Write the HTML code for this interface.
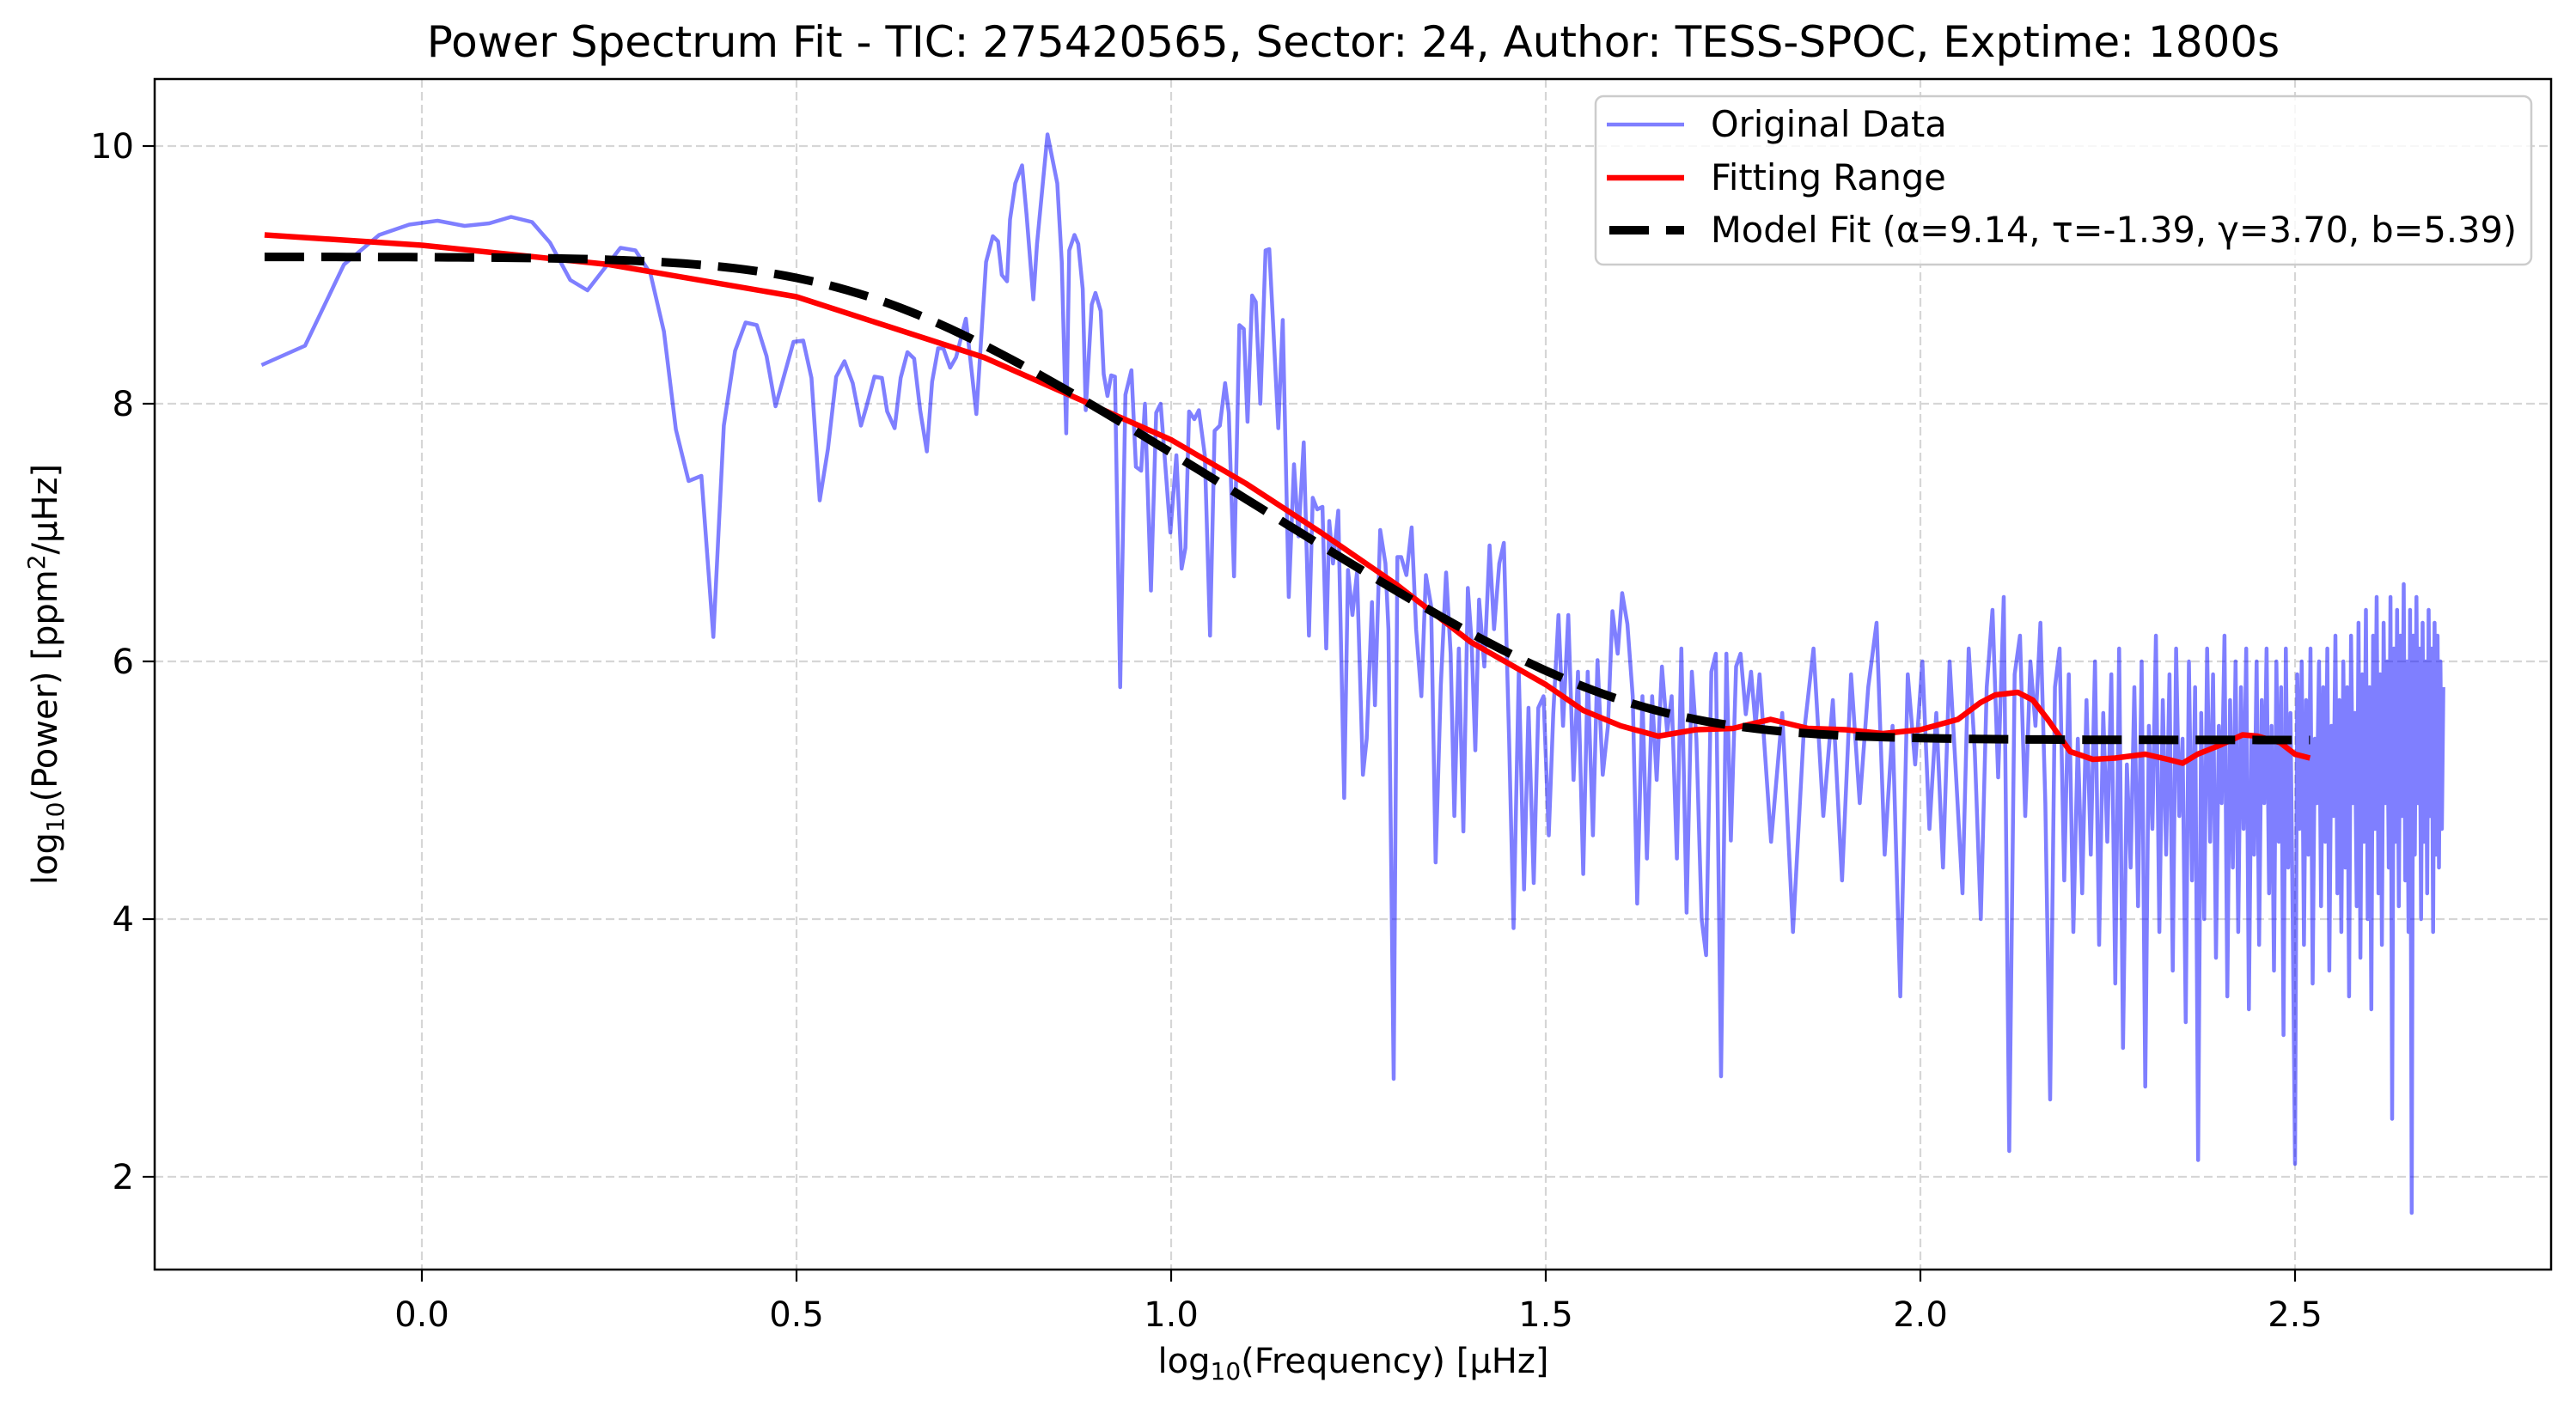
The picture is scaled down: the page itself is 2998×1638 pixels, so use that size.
<!DOCTYPE html>
<html><head><meta charset="utf-8"><style>
html,body{margin:0;padding:0;background:#fff;}
svg{display:block;font-family:"DejaVu Sans","Liberation Sans",sans-serif;}
</style></head><body>
<svg id="chart" width="2998" height="1638" viewBox="0 0 2998 1638" xmlns="http://www.w3.org/2000/svg">
<rect x="0" y="0" width="2998" height="1638" fill="#fff"/>
<defs><clipPath id="plotclip"><rect x="180" y="92" width="2789" height="1386"/></clipPath></defs>
<text x="1575" y="66" font-size="50" text-anchor="middle">Power Spectrum Fit - TIC: 275420565, Sector: 24, Author: TESS-SPOC, Exptime: 1800s</text>
<g id="grid"></g>
<g id="series" clip-path="url(#plotclip)"></g>
<rect x="180" y="92" width="2789" height="1386" fill="none" stroke="#000" stroke-width="2.5"/>
<g id="ticks"></g>
<text x="1575" y="1598" font-size="40" text-anchor="middle">log<tspan font-size="28" dy="8">10</tspan><tspan dy="-8">(Frequency) [μHz]</tspan></text>
<text transform="translate(66,785) rotate(-90)" font-size="40" text-anchor="middle">log<tspan font-size="28" dy="8">10</tspan><tspan dy="-8">(Power) [ppm</tspan><tspan font-size="28" dy="-14">2</tspan><tspan dy="14">/μHz]</tspan></text>
<g>
<rect x="1857" y="112" width="1089" height="196" rx="9" fill="#fff" fill-opacity="0.8" stroke="#cccccc" stroke-width="2.5"/>
<line x1="1870" y1="145" x2="1960" y2="145" stroke="#0000ff" stroke-opacity="0.5" stroke-width="4.5"/>
<text x="1991" y="159" font-size="41.5">Original Data</text>
<line x1="1870" y1="207" x2="1960" y2="207" stroke="#ff0000" stroke-width="6.5"/>
<text x="1991" y="221" font-size="41.5">Fitting Range</text>
<line x1="1873" y1="268" x2="1960" y2="268" stroke="#000" stroke-width="10" stroke-dasharray="46,20"/>
<text x="1991" y="282" font-size="41.5">Model Fit (α=9.14, τ=-1.39, γ=3.70, b=5.39)</text>
</g>
</svg>
<script>
var xTicks = [0.0, 0.5, 1.0, 1.5, 2.0, 2.5];
var xTickLabels = ["0.0","0.5","1.0","1.5","2.0","2.5"];
var yTicks = [2, 4, 6, 8, 10];
var yTickLabels = ["2","4","6","8","10"];
var origX = [-0.214,-0.156,-0.104,-0.057,-0.017,0.021,0.057,0.090,0.119,0.147,0.171,0.198,0.221,0.265,0.285,0.305,0.323,0.339,0.356,0.373,0.389,0.403,0.418,0.432,0.447,0.460,0.472,0.496,0.509,0.520,0.531,0.542,0.553,0.564,0.575,0.586,0.593,0.604,0.614,0.621,0.631,0.639,0.648,0.657,0.665,0.674,0.681,0.689,0.696,0.705,0.713,0.726,0.740,0.753,0.762,0.769,0.774,0.781,0.785,0.792,0.801,0.807,0.816,0.821,0.835,0.848,0.854,0.860,0.864,0.871,0.876,0.882,0.886,0.894,0.899,0.906,0.910,0.915,0.920,0.925,0.932,0.939,0.947,0.953,0.960,0.965,0.973,0.980,0.986,0.993,0.999,1.007,1.014,1.019,1.024,1.031,1.037,1.045,1.052,1.058,1.065,1.072,1.077,1.084,1.091,1.097,1.102,1.108,1.113,1.119,1.126,1.131,1.136,1.143,1.149,1.157,1.164,1.170,1.177,1.184,1.189,1.195,1.202,1.207,1.211,1.216,1.223,1.231,1.236,1.242,1.248,1.256,1.261,1.268,1.272,1.279,1.286,1.290,1.297,1.302,1.307,1.314,1.321,1.327,1.334,1.340,1.347,1.353,1.360,1.367,1.373,1.378,1.384,1.390,1.396,1.401,1.406,1.411,1.418,1.425,1.431,1.438,1.444,1.451,1.457,1.464,1.471,1.477,1.484,1.490,1.497,1.504,1.510,1.517,1.523,1.530,1.537,1.543,1.550,1.556,1.563,1.569,1.576,1.583,1.589,1.596,1.602,1.609,1.616,1.622,1.629,1.635,1.642,1.648,1.655,1.662,1.668,1.675,1.681,1.688,1.695,1.701,1.708,1.714,1.721,1.727,1.734,1.741,1.747,1.754,1.760,1.767,1.774,1.780];
var origY = [8.30,8.45,9.08,9.31,9.39,9.42,9.38,9.40,9.45,9.41,9.25,8.96,8.88,9.21,9.19,9.01,8.56,7.80,7.40,7.44,6.19,7.83,8.41,8.63,8.61,8.37,7.98,8.48,8.49,8.20,7.25,7.65,8.21,8.33,8.16,7.83,7.97,8.21,8.20,7.94,7.81,8.20,8.40,8.35,7.95,7.63,8.17,8.43,8.43,8.28,8.36,8.66,7.92,9.10,9.30,9.26,9.00,8.95,9.43,9.71,9.85,9.47,8.81,9.24,10.09,9.71,9.10,7.77,9.19,9.31,9.24,8.89,7.95,8.77,8.86,8.72,8.23,8.06,8.22,8.21,5.80,8.07,8.26,7.51,7.48,8.00,6.55,7.93,8.00,7.46,7.00,7.60,6.72,6.88,7.94,7.88,7.95,7.60,6.20,7.79,7.83,8.16,7.93,6.66,8.61,8.58,7.86,8.84,8.79,8.00,9.19,9.20,8.63,7.81,8.65,6.50,7.53,6.97,7.70,6.20,7.27,7.18,7.20,6.10,7.09,6.76,7.17,4.94,6.71,6.36,6.69,5.12,5.40,6.46,5.66,7.02,6.76,6.25,2.76,6.81,6.81,6.67,7.04,6.25,5.73,6.67,6.43,4.44,5.82,6.69,6.06,4.80,6.10,4.68,6.57,6.15,5.31,6.48,5.96,6.90,6.25,6.76,6.92,5.40,3.93,5.92,4.23,5.64,4.28,5.64,5.73,4.65,5.59,6.36,5.50,6.36,5.08,5.92,4.35,5.92,4.65,6.01,5.12,5.50,6.39,6.06,6.53,6.29,5.73,4.12,5.73,4.47,5.73,5.08,5.96,5.45,5.73,4.47,6.10,4.05,5.92,5.40,4.00,3.72,5.92,6.06,2.78,6.06,4.61,5.96,6.06,5.59,5.92,5.50];
var denseFreqStart = 61;
var denseFreqStep = 2.2;
var denseY = [5.9,4.6,5.6,3.9,5.4,6.1,4.8,5.7,4.3,5.9,
4.9,5.8,6.3,4.5,5.5,3.4,5.9,5.2,6.0,4.7,
5.6,4.4,6.0,5.1,4.2,6.1,5.3,4.0,5.8,6.4,
5.1,6.5,2.2,5.9,6.2,4.8,6.0,5.5,6.3,4.9,
2.6,5.8,6.1,4.3,5.9,3.9,5.4,4.2,5.7,4.5,
6.0,3.8,5.6,4.6,5.9,3.5,6.1,3.0,5.2,4.4,
5.8,4.1,6.0,2.7,5.5,4.7,6.2,3.9,5.7,4.5,
5.9,3.6,6.1,4.8,5.4,3.2,6.0,4.3,5.8,2.13,
5.6,4.0,6.1,4.6,5.9,3.7,5.5,4.9,6.2,3.4,
5.7,4.4,6.0,3.9,5.8,4.7,6.1,3.3,5.4,4.5,
6.0,3.8,5.7,4.9,6.1,4.2,5.5,3.6,6.0,4.6,
5.8,3.1,6.1,4.4,5.6,4.0,2.1,5.9,4.7,6.0,
3.8,5.7,4.5,6.1,3.5,5.4,4.9,6.0,4.1,5.8,
4.6,6.1,3.6,5.5,4.8,6.2,4.2,5.7,3.9,6.0,
4.4,5.8,3.4,6.2,4.9,5.6,4.1,6.3,3.7,5.9,
4.6,6.4,4.0,5.8,3.3,6.2,4.7,6.5,4.2,5.9,
3.8,6.3,4.9,6.0,4.4,6.5,2.45,6.1,4.6,6.4,
4.1,6.2,4.8,6.6,4.3,6.0,3.9,6.4,1.72,6.2,
4.5,6.5,4.9,6.1,4.0,6.3,4.6,6.0,4.2,6.4,
4.8,6.1,3.9,6.3,4.5,6.2,4.4,6.0,4.7,5.8];
var fitX = [-0.21,0.0,0.25,0.5,0.75,1.0,1.1,1.2,1.3,1.4,1.5,1.55,1.6,1.65,1.7,1.75,1.8,1.85,1.9,1.95,2.0,2.05,2.08,2.1,2.13,2.15,2.17,2.2,2.23,2.26,2.3,2.33,2.35,2.37,2.4,2.43,2.45,2.48,2.5,2.52];
var fitY = [9.31,9.23,9.08,8.83,8.36,7.72,7.38,7.0,6.6,6.15,5.82,5.62,5.5,5.42,5.47,5.48,5.55,5.48,5.47,5.44,5.47,5.55,5.68,5.74,5.76,5.7,5.55,5.3,5.24,5.25,5.28,5.24,5.21,5.28,5.35,5.43,5.42,5.37,5.28,5.25];
var modelAlpha = 9.14, modelTau = -1.39, modelGamma = 3.70, modelB = 5.39;
var modelRange = [-0.21, 2.52];

var NS = "http://www.w3.org/2000/svg";
function xs(v){ return 491 + v*872; }
function ys(v){ return 170 + (10 - v)*150; }
function mk(tag, attrs, parent){ var e=document.createElementNS(NS,tag); for(var k in attrs) e.setAttribute(k, attrs[k]); parent.appendChild(e); return e; }
var grid=document.getElementById('grid'), ticks=document.getElementById('ticks'), series=document.getElementById('series');
xTicks.forEach(function(t,i){
  var gl=mk('line',{x1:xs(t),y1:92,x2:xs(t),y2:1478,stroke:'#d6d6d6','stroke-width':2.2,'stroke-dasharray':'10,5'},grid);
  
  
  var tk=mk('line',{x1:xs(t),y1:1478,x2:xs(t),y2:1492,stroke:'#000','stroke-width':2.2},ticks);
  
  
  var tl=mk('text',{x:xs(t),y:1544,'font-size':40,'text-anchor':'middle'},ticks);
  tl.textContent=xTickLabels[i];
  
  
});
yTicks.forEach(function(t,i){
  var gl=mk('line',{x1:180,y1:ys(t),x2:2969,y2:ys(t),stroke:'#d6d6d6','stroke-width':2.2,'stroke-dasharray':'10,5'},grid);
  
  
  var tk=mk('line',{x1:166,y1:ys(t),x2:180,y2:ys(t),stroke:'#000','stroke-width':2.2},ticks);
  
  
  var tl=mk('text',{x:156,y:ys(t)+14,'font-size':40,'text-anchor':'end'},ticks);
  tl.textContent=yTickLabels[i];
  
  
});
var pts=[];
for(var i=0;i<origX.length;i++) pts.push(xs(origX[i]).toFixed(1)+','+ys(origY[i]).toFixed(1));
for(var j=0;j<denseY.length;j++){ var f=denseFreqStart+denseFreqStep*j; pts.push(xs(Math.log10(f)).toFixed(1)+','+ys(denseY[j]).toFixed(1)); }
var orig=mk('polyline',{points:pts.join(' '),fill:'none',stroke:'#0000ff','stroke-opacity':0.5,'stroke-width':4.5,'stroke-linejoin':'round'},series);


var fp=[];
for(var k=0;k<fitX.length;k++) fp.push(xs(fitX[k]).toFixed(1)+','+ys(fitY[k]).toFixed(1));
var fit=mk('polyline',{points:fp.join(' '),fill:'none',stroke:'#ff0000','stroke-width':6.5,'stroke-linejoin':'round'},series);


var mp=[];
for(var s=0;s<=200;s++){
  var x=modelRange[0]+(modelRange[1]-modelRange[0])*s/200;
  var p=Math.pow(10,modelAlpha)/(1+Math.pow(2*Math.PI*Math.pow(10,modelTau)*Math.pow(10,x),modelGamma))+Math.pow(10,modelB);
  mp.push(xs(x).toFixed(1)+','+ys(Math.log10(p)).toFixed(1));
}
var model=mk('polyline',{points:mp.join(' '),fill:'none',stroke:'#000','stroke-width':10,'stroke-dasharray':'46,20'},series);


</script>
</body></html>
